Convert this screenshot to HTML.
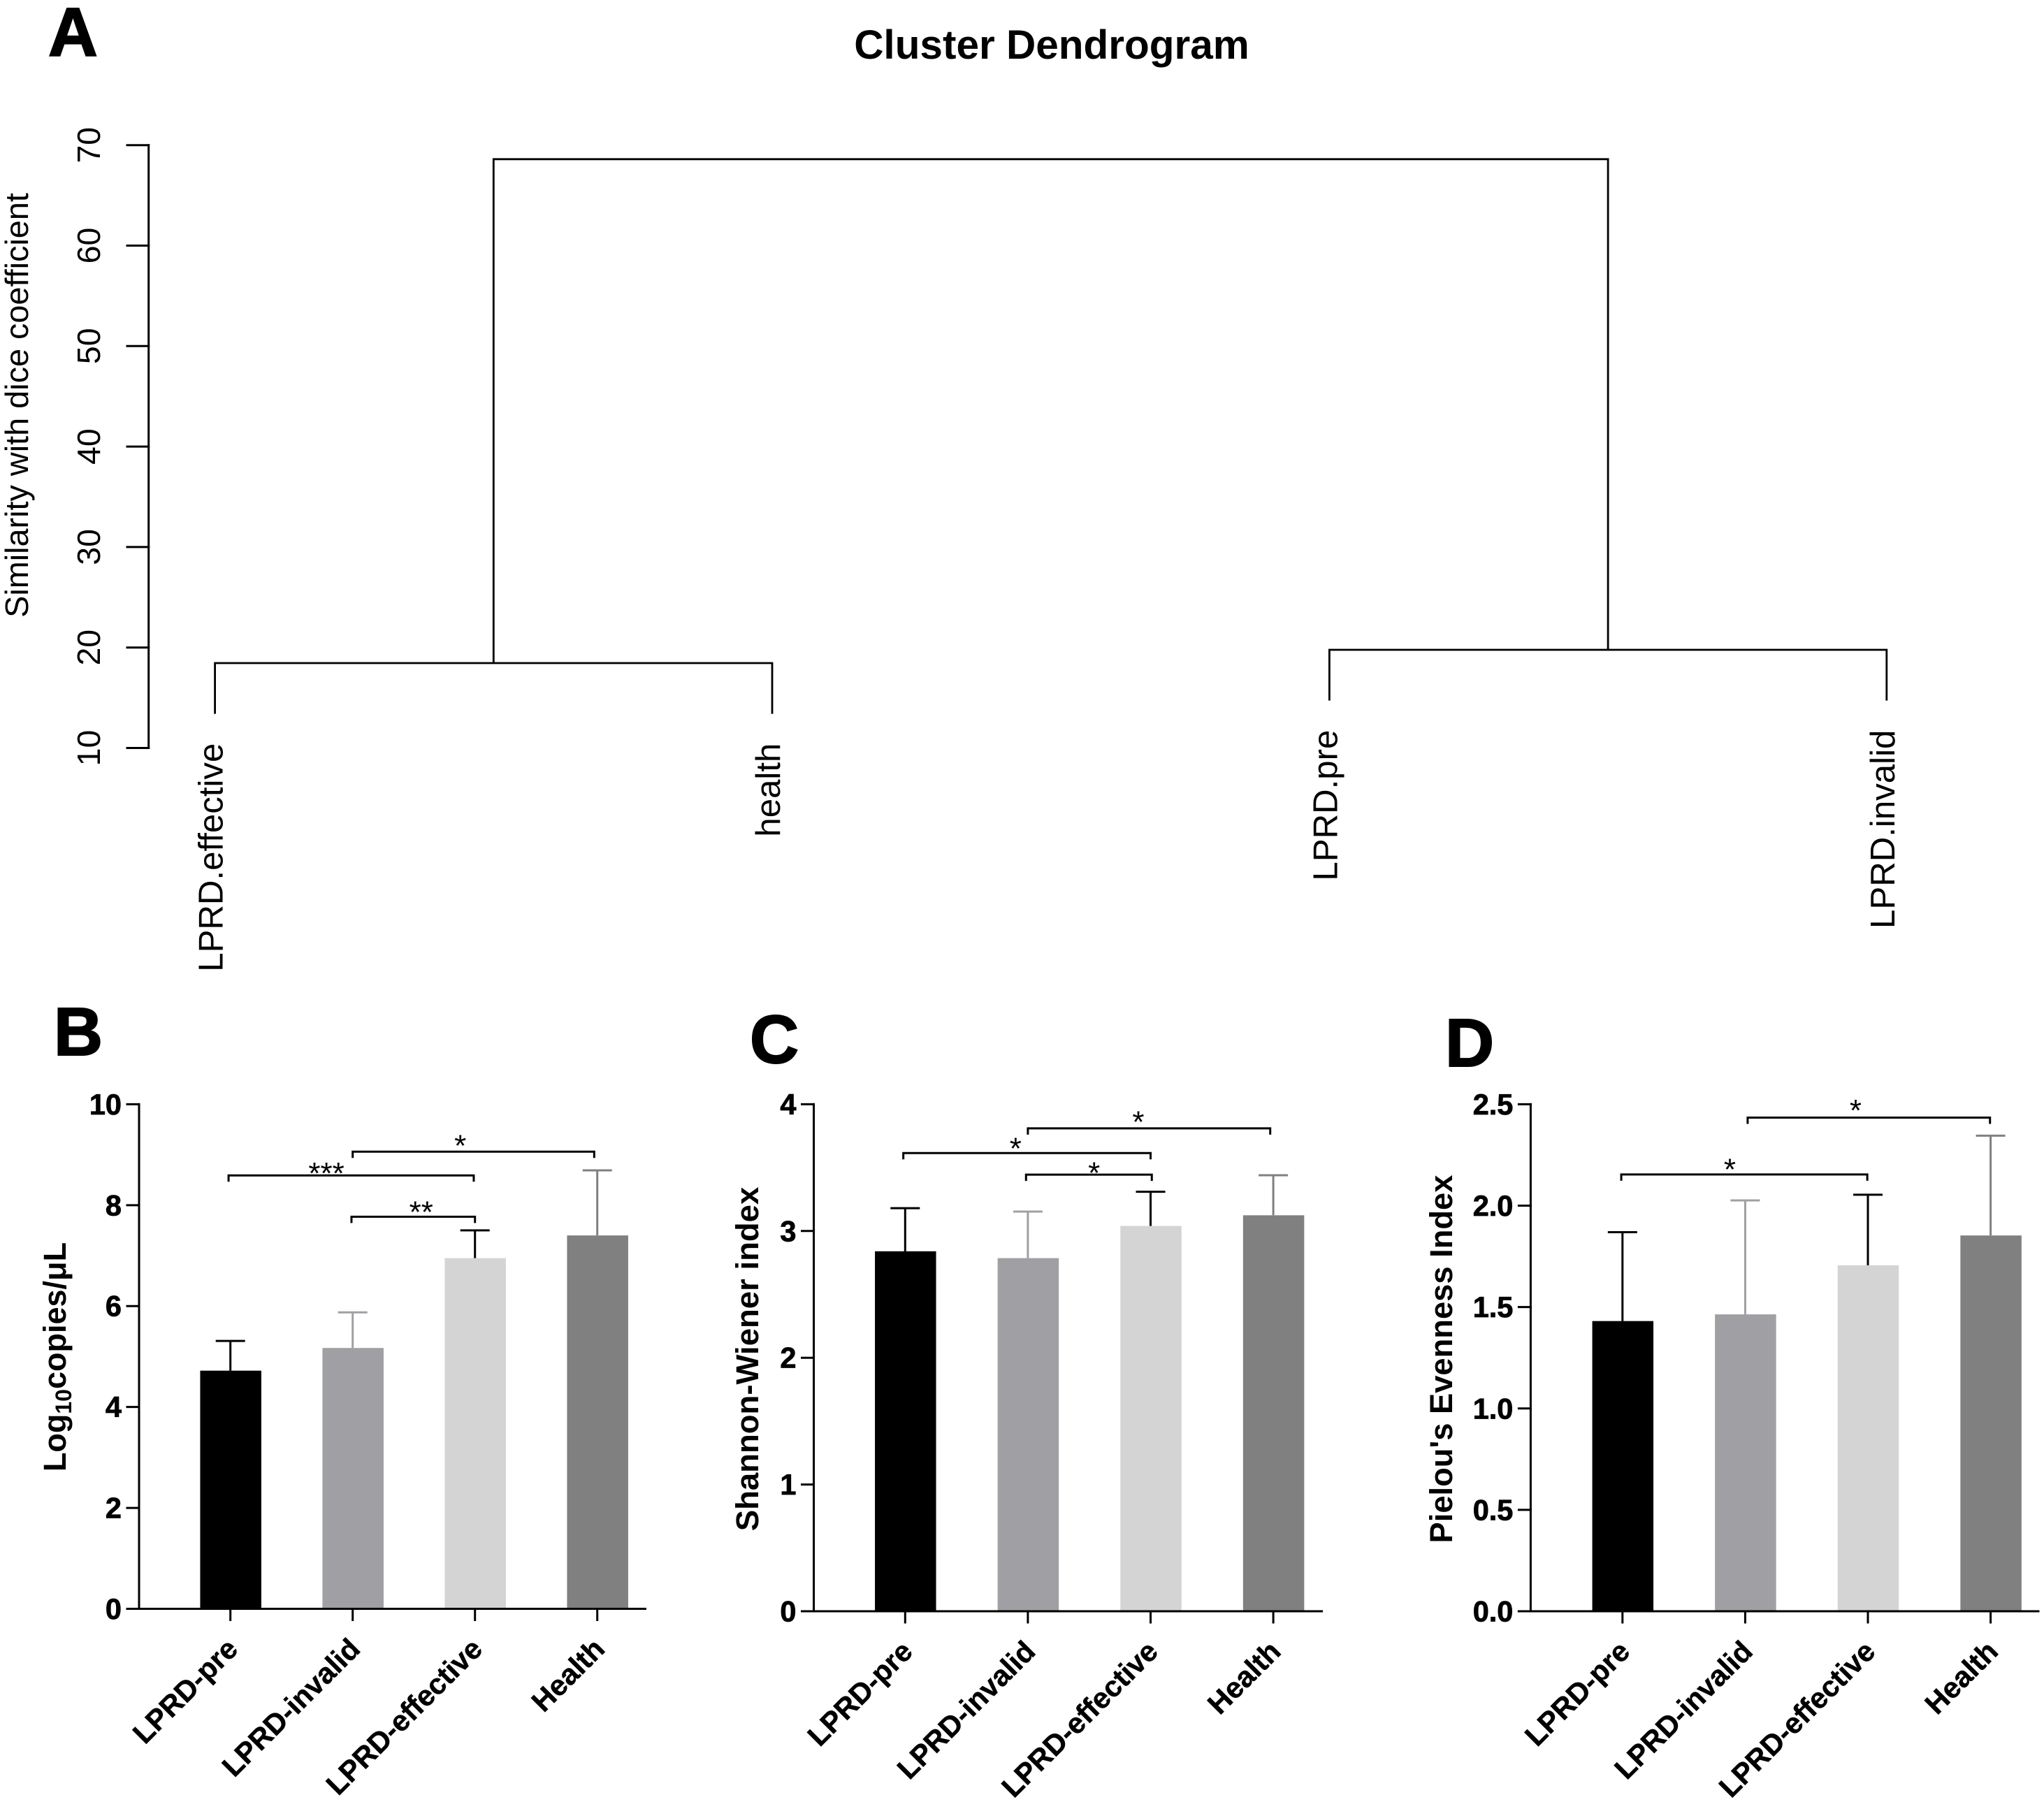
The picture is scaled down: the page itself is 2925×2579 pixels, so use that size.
<!DOCTYPE html>
<html lang="en">
<head>
<meta charset="utf-8">
<title>Cluster dendrogram and diversity bar charts</title>
<style>
html,body{margin:0;padding:0;background:#fff;}
svg{display:block;}
text{font-family:"Liberation Sans",Arial,sans-serif;fill:#000;}
</style>
</head>
<body>
<svg id="figure" xmlns="http://www.w3.org/2000/svg" width="2925" height="2579" viewBox="0 0 2925 2579">
  <rect width="2925" height="2579" fill="#fff"/>
  <text x="69" y="80" font-size="98" font-weight="700" stroke="#000" stroke-width="2">A</text>
  <text x="77" y="1510" font-size="97" font-weight="700" stroke="#000" stroke-width="2">B</text>
  <text x="1073" y="1521" font-size="97" font-weight="700" stroke="#000" stroke-width="2">C</text>
  <text x="2068" y="1526" font-size="97" font-weight="700" stroke="#000" stroke-width="2">D</text>
  <text x="1505" y="84" font-size="58.5" font-weight="700" text-anchor="middle">Cluster Dendrogram</text>
  <text transform="translate(40,580) rotate(-90)" font-size="46.8" text-anchor="middle">Similarity with dice coefficient</text>
  <text transform="translate(94,1942) rotate(-90)" font-size="45" font-weight="700" text-anchor="middle">Log<tspan font-size="32" dy="8">10</tspan><tspan dy="-8">copies/μL</tspan></text>
  <text transform="translate(1085,1945) rotate(-90)" font-size="45.5" font-weight="700" text-anchor="middle">Shannon-Wiener index</text>
  <text transform="translate(2078,1945) rotate(-90)" font-size="45.3" font-weight="700" text-anchor="middle">Pielou's Evenness Index</text>
</svg>
<script>
// Dendrogram data
const dendroTicks = [10, 20, 30, 40, 50, 60, 70];
const leafNames = ['LPRD.effective', 'health', 'LPRD.pre', 'LPRD.invalid'];
const leftMergeHeight = 18.45;
const rightMergeHeight = 19.77;
const rootMergeHeight = 68.6;
const leafDrop = 5.05;

// Shared bar categories
const barCategories = ['LPRD-pre', 'LPRD-invalid', 'LPRD-effective', 'Health'];

// Panel B data
const copiesTicks = [0, 2, 4, 6, 8, 10];
const copiesMeans = [4.72, 5.17, 6.95, 7.4];
const copiesErrTops = [5.31, 5.875, 7.5, 8.69];
const copiesSigFrom = [1, -0.015, 0.99];
const copiesSigTo = [2.975, 1.99, 2];
const copiesSigLevel = [9.06, 8.59, 7.77];
const copiesSigText = ['*', '***', '**'];
const copiesSigCentre = [1.88, 0.785, 1.56];
const copiesSigTextLevel = [9.24, 8.69, 7.92];

// Panel C data
const shannonTicks = [0, 1, 2, 3, 4];
const shannonMeans = [2.84, 2.786, 3.04, 3.124];
const shannonErrTops = [3.18, 3.153, 3.31, 3.44];
const shannonSigFrom = [1, -0.015, 0.985];
const shannonSigTo = [2.975, 2, 2.01];
const shannonSigLevel = [3.81, 3.615, 3.445];
const shannonSigText = ['*', '*', '*'];
const shannonSigCentre = [1.9, 0.9, 1.54];
const shannonSigTextLevel = [3.885, 3.675, 3.48];

// Panel D data
const pielouTicks = ['0.0', '0.5', '1.0', '1.5', '2.0', '2.5'];
const pielouMeans = [1.431, 1.464, 1.706, 1.853];
const pielouErrTops = [1.869, 2.026, 2.054, 2.345];
const pielouSigFrom = [1.02, -0.01];
const pielouSigTo = [2.995, 1.995];
const pielouSigLevel = [2.434, 2.154];
const pielouSigText = ['*', '*'];
const pielouSigCentre = [1.9, 0.875];
const pielouSigTextLevel = [2.485, 2.193];

const barFills = ['#000000', '#a0a0a4', '#d4d4d4', '#808080'];
const errStrokes = ['#000000', '#a0a0a4', '#000000', '#808080'];

const NS = 'http://www.w3.org/2000/svg';
const svg = document.getElementById('figure');

function addLine(x1, y1, x2, y2, stroke, width, name) {
  const el = document.createElementNS(NS, 'line');
  
  
  el.setAttribute('x1', x1);
  el.setAttribute('y1', y1);
  el.setAttribute('x2', x2);
  el.setAttribute('y2', y2);
  el.setAttribute('stroke', stroke);
  el.setAttribute('stroke-width', width);
  el.setAttribute('stroke-linecap', 'square');
  svg.appendChild(el);
  return el;
}

function addPath(d, stroke, width, name) {
  const el = document.createElementNS(NS, 'path');
  
  
  el.setAttribute('d', d);
  el.setAttribute('fill', 'none');
  el.setAttribute('stroke', stroke);
  el.setAttribute('stroke-width', width);
  svg.appendChild(el);
  return el;
}

function addText(str, transform, size, weight, anchor, name, outline) {
  const el = document.createElementNS(NS, 'text');
  
  
  el.setAttribute('transform', transform);
  el.setAttribute('font-size', size);
  el.setAttribute('font-weight', weight);
  el.setAttribute('text-anchor', anchor);
  if (outline) {
    el.setAttribute('stroke', '#000');
    el.setAttribute('stroke-width', outline);
  }
  el.textContent = str;
  svg.appendChild(el);
  return el;
}

function drawDendrogram() {
  const yOf = v => 1070.5 - (v - 10) * 14.38;
  const xOf = i => 307.6 + i * 797.4;
  addLine(212.7, yOf(10), 212.7, yOf(70), '#000', 3, 'dendrogram-y-axis');
  dendroTicks.forEach(t => {
    addLine(182, yOf(t), 212.7, yOf(t), '#000', 3, 'dendrogram-y-tick-' + t);
    addText(String(t), 'translate(143,' + yOf(t) + ') rotate(-90)', 46.5, 400, 'middle', 'dendrogram-y-tick-label-' + t);
  });
  const leftX = (xOf(0) + xOf(1)) / 2;
  const rightX = (xOf(2) + xOf(3)) / 2;
  addPath('M' + xOf(0) + ' ' + yOf(leftMergeHeight - leafDrop) + 'V' + yOf(leftMergeHeight) + 'H' + xOf(1) + 'V' + yOf(leftMergeHeight - leafDrop), '#000', 2.8, 'dendrogram-left-cluster');
  addPath('M' + xOf(2) + ' ' + yOf(rightMergeHeight - leafDrop) + 'V' + yOf(rightMergeHeight) + 'H' + xOf(3) + 'V' + yOf(rightMergeHeight - leafDrop), '#000', 2.8, 'dendrogram-right-cluster');
  addPath('M' + leftX + ' ' + yOf(leftMergeHeight) + 'V' + yOf(rootMergeHeight) + 'H' + rightX + 'V' + yOf(rightMergeHeight), '#000', 2.8, 'dendrogram-root-cluster');
  leafNames.forEach((n, i) => {
    const merge = i < 2 ? leftMergeHeight : rightMergeHeight;
    const top = yOf(merge - leafDrop) + 42;
    addText(n, 'translate(' + (xOf(i) + 11) + ',' + top + ') rotate(-90)', 49.2, 400, 'end', 'dendrogram-leaf-label-' + i);
  });
}

function drawBarPanel(p) {
  const yOf = v => p.y0 - (v / p.max) * (p.y0 - p.yTop);
  const xOf = i => p.x0 + i * p.step;
  // bars first so axes sit over them
  p.means.forEach((m, i) => {
    const el = document.createElementNS(NS, 'rect');
    
    
    el.setAttribute('x', xOf(i) - 43.25);
    el.setAttribute('y', yOf(m));
    el.setAttribute('width', 87.5);
    el.setAttribute('height', p.y0 - yOf(m));
    el.setAttribute('fill', barFills[i]);
    svg.appendChild(el);
    addPath('M' + xOf(i) + ' ' + yOf(m) + 'V' + yOf(p.errs[i]) + 'M' + (xOf(i) - 21) + ' ' + yOf(p.errs[i]) + 'H' + (xOf(i) + 21), errStrokes[i], 3, p.id + '-error-bar-' + barCategories[i]);
    addLine(xOf(i), p.y0, xOf(i), p.y0 + 16, '#000', 3, p.id + '-x-tick-' + i);
    addText(barCategories[i], 'translate(' + (xOf(i) + 13) + ',' + (p.y0 + 60) + ') rotate(-45)', 41.5, 700, 'end', p.id + '-x-tick-label-' + i, 0.5);
  });
  addLine(p.axisX, p.y0, p.axisX, p.yTop, '#000', 3, p.id + '-y-axis');
  addLine(p.axisX - 17, p.y0, p.xEnd, p.y0, '#000', 3, p.id + '-x-axis');
  p.ticks.forEach(t => {
    const v = parseFloat(t);
    addLine(p.axisX - 17, yOf(v), p.axisX, yOf(v), '#000', 3, p.id + '-y-tick-' + t);
    addText(String(t), 'translate(' + (p.axisX - 25) + ',' + (yOf(v) + 14.5) + ')', 41.5, 700, 'end', p.id + '-y-tick-label-' + t, 0.8);
  });
  p.sigLevel.forEach((lv, i) => {
    const y = yOf(lv);
    addPath('M' + xOf(p.sigFrom[i]) + ' ' + (y + 9) + 'V' + y + 'H' + xOf(p.sigTo[i]) + 'V' + (y + 9), '#000', 3, p.id + '-significance-bracket-' + i);
    addText(p.sigText[i], 'translate(' + xOf(p.sigCentre[i]) + ',' + (yOf(p.sigTextLevel[i]) + 19) + ')', 44, 400, 'middle', p.id + '-significance-stars-' + i);
  });
}

drawDendrogram();
drawBarPanel({id:'copies', x0:329.7, step:175, y0:2302.5, yTop:1580.4, max:10, axisX:199, xEnd:923.5,
  ticks:copiesTicks, means:copiesMeans, errs:copiesErrTops, sigFrom:copiesSigFrom, sigTo:copiesSigTo,
  sigLevel:copiesSigLevel, sigText:copiesSigText, sigCentre:copiesSigCentre, sigTextLevel:copiesSigTextLevel});
drawBarPanel({id:'shannon', x0:1295.3, step:175.6, y0:2306, yTop:1580.4, max:4, axisX:1164.5, xEnd:1891.6,
  ticks:shannonTicks, means:shannonMeans, errs:shannonErrTops, sigFrom:shannonSigFrom, sigTo:shannonSigTo,
  sigLevel:shannonSigLevel, sigText:shannonSigText, sigCentre:shannonSigCentre, sigTextLevel:shannonSigTextLevel});
drawBarPanel({id:'pielou', x0:2321.8, step:175.6, y0:2306, yTop:1580.4, max:2.5, axisX:2190.4, xEnd:2917,
  ticks:pielouTicks, means:pielouMeans, errs:pielouErrTops, sigFrom:pielouSigFrom, sigTo:pielouSigTo,
  sigLevel:pielouSigLevel, sigText:pielouSigText, sigCentre:pielouSigCentre, sigTextLevel:pielouSigTextLevel});
</script>
</body>
</html>
